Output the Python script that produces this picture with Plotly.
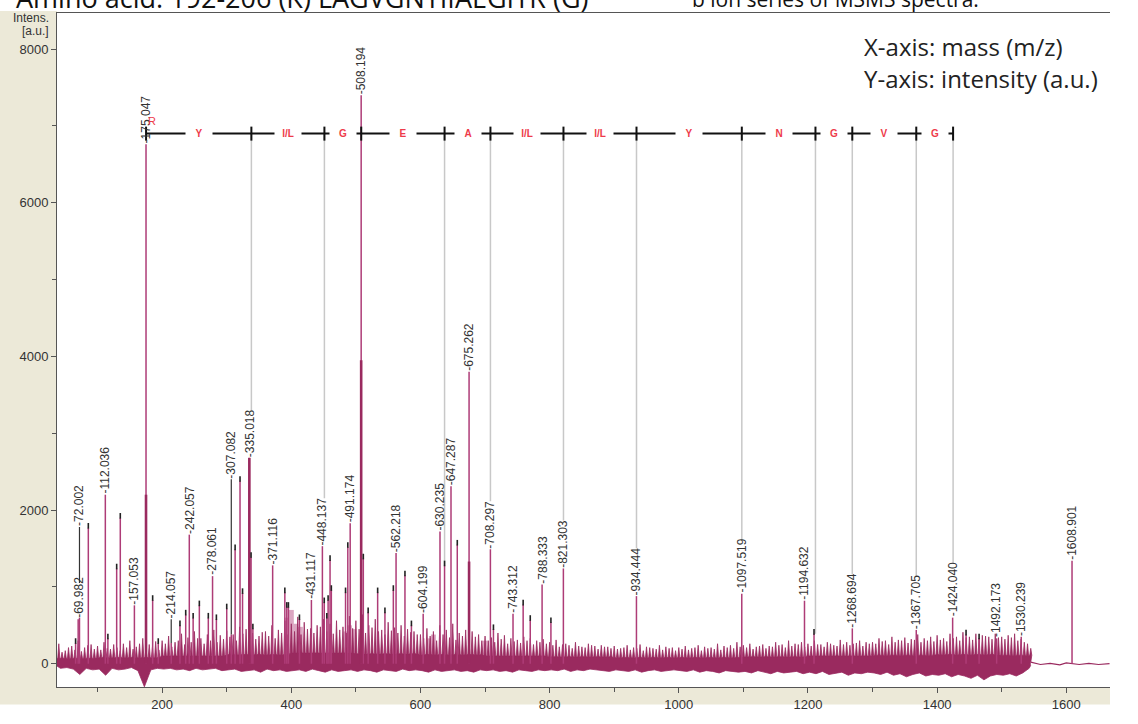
import numpy as np
import plotly.graph_objects as go

# ---------------- spectrum data ----------------
# annotated peaks (m/z, intensity a.u.)
label_mz = [69.982, 72.002, 112.036, 157.053, 175.047, 214.057, 242.057, 278.061,
            307.082, 335.018, 371.116, 431.117, 448.137, 491.174, 508.194, 562.218,
            604.199, 630.235, 647.287, 675.262, 708.297, 743.312, 788.333, 821.303,
            934.444, 1097.519, 1194.632, 1268.694, 1367.705, 1424.040, 1492.173,
            1530.239, 1608.901]
label_int = [580, 600, 2200, 760, 6760, 270, 1680, 1140,
             380, 2680, 1280, 830, 1530, 1830, 7400, 1440,
             650, 1720, 2310, 3800, 1490, 650, 1030, 1240,
             880, 910, 820, 460, 440, 600, 330,
             350, 1340]

# other picked peaks (no label)
other_mz = [66.0, 85.7, 116.0, 129.6, 135.2, 185.3, 194.0, 227.6, 236.5, 248.0,
            257.6, 271.5, 284.0, 300.0, 313.0, 320.6, 324.5, 337.7, 340.5, 390.0,
            393.0, 395.5, 412.6, 451.0, 455.0, 457.0, 460.0, 462.0, 484.0, 487.5,
            511.5, 519.0, 533.7, 545.0, 558.0, 576.0, 586.0, 637.3, 657.0, 713.0,
            759.0, 770.0, 802.0, 1209.4, 1444.8, 1465.0]
other_int = [270, 1770, 330, 1240, 1900, 830, 270, 500, 640, 600,
             760, 600, 580, 720, 1490, 2380, 920, 1390, 460, 930,
             740, 740, 580, 800, 600, 830, 1350, 960, 930, 1520,
             1370, 670, 930, 670, 960, 1150, 500, 1280, 1550, 450,
             770, 570, 540, 390, 380, 330]

# broad, dense lower part of the strongest peaks
core_mz = [175.047, 335.018, 508.194, 675.262]
core_int = [2200, 2680, 3950, 1330]

# labels moved up to avoid overlap: (leader start, label base)
label_lift = {72.002: (1050, 1780), 214.057: (270, 580), 307.082: (380, 2400)}

# baseline noise on a 10 Da grid (40..1540): spike tops at m and m+5, negative excursions
noise_start, noise_step = 40, 10
noise_hi = [260, 170, 230, 300, 210, 250,
            230, 280, 190, 210, 260, 300, 220, 330, 250, 290,
            300, 360, 280, 390, 340, 420, 330, 380, 440, 370,
            430, 380, 480, 450, 400, 360, 420, 500, 440, 560,
            520, 610, 540, 460, 500, 580, 520, 560, 480, 620,
            560, 640, 500, 580, 440, 540, 470, 500, 450, 420,
            380, 460, 420, 500, 440, 520, 400, 440, 420, 380,
            360, 340, 400, 370, 330, 310, 350, 330, 300, 320,
            280, 310, 250, 240, 280, 220, 260, 230, 240, 220,
            230, 200, 240, 210, 250, 220, 200, 240, 220, 210,
            210, 230, 200, 240, 220, 210, 260, 230, 240, 280,
            240, 260, 220, 250, 230, 280, 250, 300, 260, 280,
            260, 300, 250, 280, 240, 310, 280, 260, 300, 280,
            280, 330, 300, 350, 310, 340, 320, 380, 330, 350,
            370, 330, 390, 350, 410, 350, 390, 370, 350, 390,
            350, 370, 390, 320, 260]
noise_mid = [150, 210, 180, 160, 240, 190,
             180, 200, 250, 170, 210, 190, 260, 200, 220, 180,
             260, 220, 300, 250, 280, 330, 260, 300, 280, 320,
             350, 300, 390, 340, 320, 410, 360, 330, 400, 380,
             420, 380, 450, 400, 480, 420, 390, 440, 400, 460,
             450, 400, 470, 420, 380, 430, 400, 360, 410, 380,
             330, 360, 300, 380, 340, 310, 360, 330, 350, 300,
             300, 280, 320, 260, 290, 270, 300, 250, 280, 260,
             240, 220, 260, 200, 230, 210, 240, 190, 220, 200,
             190, 210, 180, 200, 170, 210, 190, 180, 200, 170,
             190, 180, 210, 170, 200, 190, 180, 210, 200, 220,
             210, 190, 230, 200, 220, 240, 210, 230, 250, 220,
             230, 250, 220, 260, 230, 250, 240, 270, 230, 260,
             260, 290, 250, 280, 300, 270, 310, 280, 300, 290,
             310, 290, 330, 300, 340, 310, 330, 360, 320, 340,
             320, 340, 300, 280, 200]
noise_lo = [-60, -50, -70, -140, -60, -80,
            -70, -150, -60, -80, -70, -50, -90, -300, -80, -60,
            -70, -60, -80, -70, -90, -60, -80, -70, -60, -90,
            -80, -70, -100, -90, -80, -110, -70, -90, -80, -100,
            -90, -80, -100, -70, -90, -110, -80, -100, -90, -80,
            -100, -80, -90, -110, -80, -90, -100, -70, -90, -80,
            -90, -110, -80, -100, -90, -80, -100, -90, -110, -80,
            -90, -80, -100, -90, -110, -80, -90, -100, -80, -90,
            -80, -90, -70, -100, -80, -90, -70, -80, -90, -100,
            -80, -90, -100, -80, -110, -90, -80, -100, -90, -80,
            -90, -100, -80, -110, -90, -100, -120, -90, -100, -110,
            -100, -120, -90, -110, -130, -100, -120, -110, -100, -130,
            -110, -130, -100, -140, -120, -110, -150, -120, -130, -110,
            -120, -140, -110, -150, -130, -170, -140, -120, -160, -140,
            -150, -130, -170, -140, -160, -190, -150, -210, -160, -140,
            -150, -130, -160, -120, -60]
# dense noise band height per 100 Da
noise_core = [70, 80, 100, 120, 140, 130, 120, 100, 90, 80, 80, 90, 100, 110, 120, 110]

# quiet tail after the end of the noise region
tail_mz = [1545, 1560, 1575, 1590, 1600, 1620, 1635, 1650, 1667]
tail_int = [20, -10, 5, -15, 10, -10, 5, -10, 0]

# lighter overlapping trace regions
pink_mz = [393, 400, 407, 414, 485, 490, 497, 615, 620, 700]
pink_int = [600, 700, 520, 480, 420, 500, 450, 330, 380, 300]

# fragment ion ladder
ladder_mz = [175.12, 338.18, 451.26, 508.28, 637.32, 708.36, 821.44, 934.52,
             1097.59, 1211.63, 1268.65, 1367.72, 1424.74]
ladder_res = ["Y", "I/L", "G", "E", "A", "I/L", "I/L", "Y", "N", "G", "V", "G"]
ladder_peak = [175.047, 335.018, 448.137, 508.194, 637.3, 708.297, 821.303, 934.444,
               1097.519, 1209.4, 1268.694, 1367.705, 1424.040]
ladder_level = 6900

# ---------------- geometry ----------------
W, H = 1138, 724
L, R, T, B = 57, 28, 12, 18
PW, PH = W - L - R, H - T - B
X_RANGE = [37.2, 1667.7]
Y_RANGE = [-303, 8470]


def px_x(px):
    return (px - L) / PW


def px_y(py):
    return (H - B - py) / PH


MAROON = "#9A2A5F"
PEAK = "#AE3C77"
PINK = "#DBA6C1"

fig = go.Figure()


def sticks(xs, y0s, y1s):
    X, Y = [], []
    for x, a, b in zip(xs, y0s, y1s):
        X += [x, x, None]
        Y += [a, b, None]
    return X, Y


# lighter trace
X, Y = sticks(pink_mz, [0] * len(pink_mz), pink_int)
fig.add_trace(go.Scatter(x=X, y=Y, mode="lines", line=dict(color=PINK, width=5),
                         hoverinfo="skip"))

# noise band: lower envelope then upper envelope filled to it
grid = [noise_start + i * noise_step for i in range(len(noise_hi))]
lx, ly = [37.2], [-30]
for m, lo in zip(grid, noise_lo):
    lx += [m + 2.5]
    ly += [lo]
lx += [1545]
ly += [-20]
fig.add_trace(go.Scatter(x=lx, y=ly, mode="lines", line=dict(color=MAROON, width=0.8),
                         hoverinfo="skip"))
ux, uy = [37.2], [noise_core[0]]
for m, h, h2 in zip(grid, noise_hi, noise_mid):
    c = noise_core[int(m // 100)]
    ux += [m - 1.6, m, m + 1.6, m + 3.4, m + 5, m + 6.6]
    uy += [c, h, c, c, h2, c]
ux += [1545]
uy += [20]
fig.add_trace(go.Scatter(x=ux, y=uy, mode="lines", fill="tonexty", fillcolor=MAROON,
                         line=dict(color=MAROON, width=0.8), hoverinfo="skip"))
fig.add_trace(go.Scatter(x=tail_mz, y=tail_int, mode="lines",
                         line=dict(color=MAROON, width=1.2), hoverinfo="skip"))

# gray guide lines from ladder to peaks / labels
all_mz = label_mz + other_mz
all_int = label_int + other_int
gx, gy = [], []
for lm, pm in zip(ladder_mz[1:], ladder_peak[1:]):
    if pm == 508.194:
        continue
    h = all_int[all_mz.index(pm)]
    if pm in label_mz:
        h += (len(f"{pm:.3f}") + 1) * 78
    gx += [lm, lm, None]
    gy += [ladder_level, h, None]
fig.add_trace(go.Scatter(x=gx, y=gy, mode="lines", line=dict(color="#C8C8C8", width=1.5),
                         hoverinfo="skip"))

# peaks
X, Y = sticks(all_mz, [0] * len(all_mz), all_int)
fig.add_trace(go.Scatter(x=X, y=Y, mode="lines", line=dict(color=PEAK, width=1.5),
                         hoverinfo="skip"))
X, Y = sticks(core_mz, [0] * len(core_mz), core_int)
fig.add_trace(go.Scatter(x=X, y=Y, mode="lines", line=dict(color=MAROON, width=2.6),
                         hoverinfo="skip"))

# leader lines of moved labels
lm_ = list(label_lift.keys())
X, Y = sticks(lm_, [label_lift[k][0] for k in lm_], [label_lift[k][1] for k in lm_])
fig.add_trace(go.Scatter(x=X, y=Y, mode="lines", line=dict(color="#333333", width=1.2),
                         hoverinfo="skip"))

# peak-pick marks on unlabelled peaks
fig.add_trace(go.Scatter(x=other_mz, y=[v + 25 for v in other_int], mode="markers",
                         marker=dict(symbol="line-ns", size=4,
                                     line=dict(color="#222222", width=1.6)),
                         hoverinfo="skip"))

# ladder line and ion markers
fig.add_trace(go.Scatter(x=[ladder_mz[0], ladder_mz[-1]], y=[ladder_level] * 2, mode="lines",
                         line=dict(color="#111111", width=2), hoverinfo="skip"))
fig.add_trace(go.Scatter(x=ladder_mz, y=[ladder_level] * len(ladder_mz), mode="markers",
                         marker=dict(symbol="line-ns", size=10,
                                     line=dict(color="#111111", width=2)),
                         hoverinfo="skip"))

annotations = []
LABEL_FONT = dict(family="Liberation Sans, Arial", size=12, color="#333333")
for m, h in zip(label_mz, label_int):
    base = label_lift[m][1] if m in label_lift else h
    annotations.append(dict(x=m, y=base, text="-" + f"{m:.3f}", textangle=-90,
                            xanchor="center", yanchor="bottom", showarrow=False,
                            font=LABEL_FONT, borderpad=0))

for i, res in enumerate(ladder_res):
    mid = (ladder_mz[i] + ladder_mz[i + 1]) / 2
    annotations.append(dict(x=mid, y=ladder_level, text="<b>" + res + "</b>", showarrow=False,
                            bgcolor="white", width=26, borderpad=0,
                            xanchor="center", yanchor="middle",
                            font=dict(family="Liberation Sans, Arial", size=10,
                                      color="#EE3B4A")))
annotations.append(dict(x=184, y=7060, text="R", showarrow=False,
                        font=dict(family="Liberation Sans, Arial", size=11, color="#EE3B4A")))

# header and axis captions
annotations += [
    dict(xref="paper", yref="paper", x=px_x(590), y=px_y(-4), xanchor="right",
         yanchor="middle", showarrow=False,
         text="Amino acid: 192-206 (K) LAGVGNYIIAEGIYR (G)",
         font=dict(family="Open Sans", size=27, color="#111111")),
    dict(xref="paper", yref="paper", x=px_x(690), y=px_y(-2), xanchor="left",
         yanchor="middle", showarrow=False, text="b ion series of MSMS spectra.",
         font=dict(family="Open Sans", size=21, color="#111111")),
    dict(xref="paper", yref="paper", x=px_x(862), y=px_y(47), xanchor="left",
         yanchor="middle", showarrow=False, text="X-axis: mass (m/z)",
         font=dict(family="Open Sans", size=24, color="#222222")),
    dict(xref="paper", yref="paper", x=px_x(862), y=px_y(79), xanchor="left",
         yanchor="middle", showarrow=False, text="Y-axis: intensity (a.u.)",
         font=dict(family="Open Sans", size=24, color="#222222")),
    dict(xref="paper", yref="paper", x=px_x(51), y=px_y(17), xanchor="right",
         yanchor="middle", showarrow=False, text="Intens.",
         font=dict(family="Liberation Sans, Arial", size=12, color="#333333")),
    dict(xref="paper", yref="paper", x=px_x(51), y=px_y(31), xanchor="right",
         yanchor="middle", showarrow=False, text="[a.u.]",
         font=dict(family="Liberation Sans, Arial", size=12, color="#333333")),
]

BEIGE = "#ECE9D8"
shapes = [
    dict(type="rect", xref="paper", yref="paper", x0=px_x(0), x1=px_x(L), y0=px_y(H),
         y1=px_y(10), fillcolor=BEIGE, line=dict(width=0), layer="below"),
    dict(type="rect", xref="paper", yref="paper", x0=px_x(L), x1=1, y0=px_y(H),
         y1=0, fillcolor=BEIGE, line=dict(width=0), layer="below"),
]

AX_FONT = dict(family="Liberation Sans, Arial", size=13, color="#333333")
fig.update_layout(
    width=W, height=H, autosize=False,
    margin=dict(l=L, r=R, t=T, b=B),
    paper_bgcolor="white", plot_bgcolor="white",
    showlegend=False,
    annotations=annotations, shapes=shapes,
    xaxis=dict(range=X_RANGE, tick0=0, dtick=200, ticks="outside", ticklen=5,
               tickcolor="#555555", showline=True, linecolor="#555555", linewidth=1,
               mirror=True, showgrid=False, zeroline=False, tickfont=AX_FONT,
               minor=dict(dtick=100, ticks="outside", ticklen=4, tickcolor="#555555")),
    yaxis=dict(range=Y_RANGE, tick0=0, dtick=2000, ticks="outside", ticklen=5,
               tickcolor="#555555", showline=True, linecolor="#555555", linewidth=1,
               showgrid=False, zeroline=False, tickfont=AX_FONT,
               minor=dict(dtick=1000, ticks="outside", ticklen=4, tickcolor="#555555")),
)

fig.write_html("out.html")
